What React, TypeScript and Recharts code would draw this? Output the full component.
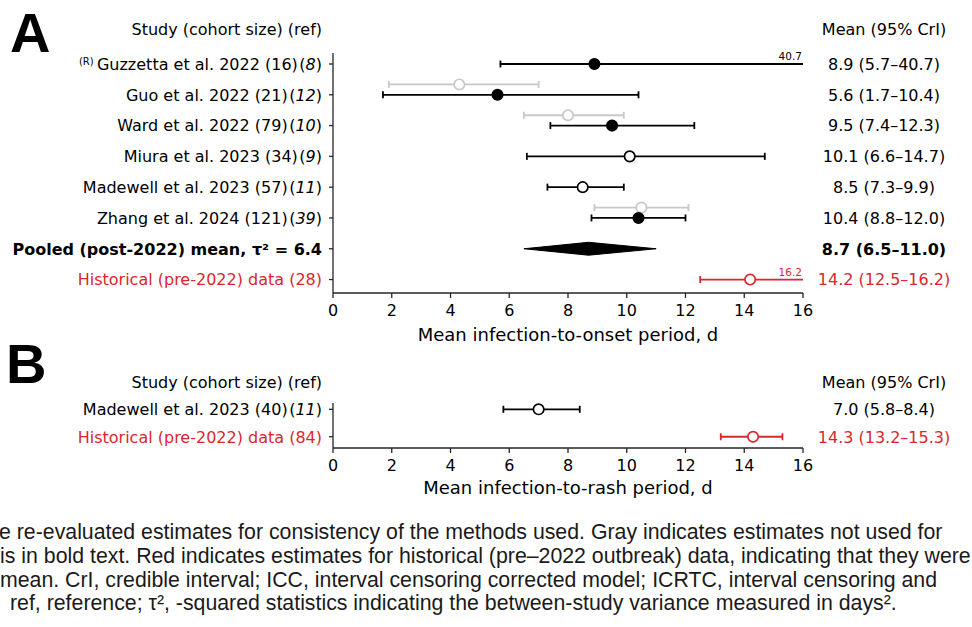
import { ScatterChart, Scatter, XAxis, YAxis, ErrorBar, Label } from "recharts";

// Panel A: infection-to-onset
const studiesA = ["Guzzetta et al. 2022", "Guo et al. 2022", "Ward et al. 2022", "Miura et al. 2023", "Madewell et al. 2023", "Zhang et al. 2024"];
const cohortA = [16, 21, 79, 34, 57, 121];
const refsA = [8, 12, 10, 9, 11, 39];
const meanA = [8.9, 5.6, 9.5, 10.1, 8.5, 10.4];
const lowA = [5.7, 1.7, 7.4, 6.6, 7.3, 8.8];
const highA = [40.7, 10.4, 12.3, 14.7, 9.9, 12.0];
const filledA = [true, true, true, false, false, true];
// gray = estimates not used for pooling
const grayMeanA = [null, 4.3, 8.0, null, null, 10.5];
const grayLowA = [null, 1.9, 6.5, null, null, 8.9];
const grayHighA = [null, 7.0, 9.9, null, null, 12.1];

const pooledMeanA = 8.7;
const pooledLowA = 6.5;
const pooledHighA = 11.0;
const pooledTau2A = 6.4;

const histCohortA = 28;
const histMeanA = 14.2;
const histLowA = 12.5;
const histHighA = 16.2;

// Panel B: infection-to-rash
const studiesB = ["Madewell et al. 2023"];
const cohortB = [40];
const refsB = [11];
const meanB = [7.0];
const lowB = [5.8];
const highB = [8.4];

const histCohortB = 84;
const histMeanB = 14.3;
const histLowB = 13.2;
const histHighB = 15.3;

const xTicks = [0, 2, 4, 6, 8, 10, 12, 14, 16];

const X_MAX = 16;
const BLACK = "#000";
const AXIS = "#262626";
const GRAY = "#c8c8c8";
const RED = "#d9272e";
const FONT = "'DejaVu Sans', sans-serif";
const RIGHT_CENTER = 884;
const GRAY_SHIFT = 0.335;

const POOLED_ROW = studiesA.length;
const HIST_ROW_A = studiesA.length + 1;
const HIST_ROW_B = studiesB.length;

const fmt = (m: number, l: number, h: number) => `${m.toFixed(1)} (${l.toFixed(1)}–${h.toFixed(1)})`;
// intervals running past the axis get no upper cap; the rest is drawn as a plain line to the edge
const err = (m: number, l: number, h: number) => [m - l, h > X_MAX ? 0 : h - m];

const pointsA = studiesA.map((_, i) => ({ x: meanA[i], y: i, err: err(meanA[i], lowA[i], highA[i]) }));
const filledPtsA = pointsA.filter((_, i) => filledA[i]);
const openPtsA = pointsA.filter((_, i) => !filledA[i]);
const grayPtsA = grayMeanA
  .map((m, i) => (m == null ? null : { x: m, y: i - GRAY_SHIFT, err: err(m, grayLowA[i] as number, grayHighA[i] as number) }))
  .filter(Boolean);
const histPtsA = [{ x: histMeanA, y: HIST_ROW_A, err: err(histMeanA, histLowA, histHighA) }];
const diamondA = [
  { x: pooledLowA, y: POOLED_ROW },
  { x: pooledMeanA, y: POOLED_ROW - 0.21 },
  { x: pooledHighA, y: POOLED_ROW },
  { x: pooledMeanA, y: POOLED_ROW + 0.21 },
  { x: pooledLowA, y: POOLED_ROW },
];
const overflowA = [
  ...highA.map((h, i) => ({ m: meanA[i], y: i, text: h.toFixed(1), color: BLACK, over: h > X_MAX })),
  { m: histMeanA, y: HIST_ROW_A, text: histHighA.toFixed(1), color: RED, over: histHighA > X_MAX },
].filter((d) => d.over);

const pointsB = studiesB.map((_, i) => ({ x: meanB[i], y: i, err: err(meanB[i], lowB[i], highB[i]) }));
const histPtsB = [{ x: histMeanB, y: HIST_ROW_B, err: err(histMeanB, histLowB, histHighB) }];

const rowsA = [...studiesA.map((_, i) => i), POOLED_ROW, HIST_ROW_A];
const rowsB = [...studiesB.map((_, i) => i), HIST_ROW_B];

const dot = (fill: string, stroke: string) => (p: any) => (
  <circle cx={p.cx} cy={p.cy} r={5.2} fill={fill} stroke={stroke} strokeWidth={1.7} />
);
const nothing = () => <g />;
const edgeLabel = (p: any) =>
  p.payload.text ? (
    <text x={p.cx - 1} y={p.cy - 4} textAnchor="end" fontSize={10.5} fill={p.payload.color}>
      {p.payload.text}
    </text>
  ) : (
    <g />
  );

function studyLabel(name: string, n: number, ref: number, sup: boolean) {
  return (
    <>
      {sup && (
        <tspan fontSize={10} dy={-5}>
          (R){" "}
        </tspan>
      )}
      <tspan dy={sup ? 5 : 0}>{`${name} (${n})`}</tspan>
      <tspan dx={1.5}>(</tspan>
      <tspan fontStyle="italic">{ref}</tspan>
      <tspan>)</tspan>
    </>
  );
}

function leftTickA(props: any) {
  const { x, y, payload } = props;
  const i = Math.round(payload.value);
  let fill = BLACK;
  let weight = 400;
  let content: any;
  if (i < studiesA.length) {
    content = studyLabel(studiesA[i], cohortA[i], refsA[i], i === 0);
  } else if (i === POOLED_ROW) {
    weight = 700;
    content = `Pooled (post-2022) mean, τ² = ${pooledTau2A.toFixed(1)}`;
  } else {
    fill = RED;
    content = `Historical (pre-2022) data (${histCohortA})`;
  }
  return (
    <text x={x} y={y + 5.8} textAnchor="end" fontSize={16} fontWeight={weight} fill={fill}>
      {content}
    </text>
  );
}

function rightTickA(props: any) {
  const { y, payload } = props;
  const i = Math.round(payload.value);
  let fill = BLACK;
  let weight = 400;
  let s: string;
  if (i < studiesA.length) s = fmt(meanA[i], lowA[i], highA[i]);
  else if (i === POOLED_ROW) {
    weight = 700;
    s = fmt(pooledMeanA, pooledLowA, pooledHighA);
  } else {
    fill = RED;
    s = fmt(histMeanA, histLowA, histHighA);
  }
  return (
    <text x={RIGHT_CENTER} y={y + 5.8} textAnchor="middle" fontSize={16} fontWeight={weight} fill={fill}>
      {s}
    </text>
  );
}

function leftTickB(props: any) {
  const { x, y, payload } = props;
  const i = Math.round(payload.value);
  const isHist = i === HIST_ROW_B;
  return (
    <text x={x} y={y + 5.8} textAnchor="end" fontSize={16} fill={isHist ? RED : BLACK}>
      {isHist ? `Historical (pre-2022) data (${histCohortB})` : studyLabel(studiesB[i], cohortB[i], refsB[i], false)}
    </text>
  );
}

function rightTickB(props: any) {
  const { y, payload } = props;
  const i = Math.round(payload.value);
  const isHist = i === HIST_ROW_B;
  return (
    <text x={RIGHT_CENTER} y={y + 5.8} textAnchor="middle" fontSize={16} fill={isHist ? RED : BLACK}>
      {isHist ? fmt(histMeanB, histLowB, histHighB) : fmt(meanB[i], lowB[i], highB[i])}
    </text>
  );
}

function Panel({ height, top, domain, rows, leftTick, rightTick, xHeight, labelOffset, xLabel, children }: any) {
  return (
    <ScatterChart width={972} height={height} margin={{ top, right: 0, bottom: 0, left: 0 }}>
      <XAxis
        type="number"
        dataKey="x"
        domain={[0, X_MAX]}
        ticks={xTicks}
        interval={0}
        height={xHeight}
        stroke={AXIS}
        strokeWidth={1.3}
        tickSize={5}
        tickMargin={7}
        tick={{ fontSize: 16, fill: BLACK }}
      >
        <Label value={xLabel} position="insideBottom" offset={labelOffset} fontSize={18} fill={BLACK} />
      </XAxis>
      <YAxis
        type="number"
        dataKey="y"
        domain={domain}
        reversed
        ticks={rows}
        interval={0}
        width={333}
        stroke={AXIS}
        strokeWidth={1.3}
        tickSize={4}
        tickMargin={7}
        tick={leftTick}
      />
      <YAxis
        yAxisId="r"
        orientation="right"
        type="number"
        dataKey="y"
        domain={domain}
        reversed
        ticks={rows}
        interval={0}
        width={169}
        axisLine={false}
        tickLine={false}
        tick={rightTick}
      />
      <Scatter yAxisId="r" data={rows.map((r: number) => ({ x: 0, y: r }))} shape={nothing} isAnimationActive={false} />
      {children}
    </ScatterChart>
  );
}

const bar = (color: string) => (
  <ErrorBar dataKey="err" direction="x" width={3.5} stroke={color} strokeWidth={1.8} isAnimationActive={false} />
);

const caption = [
  { left: -1, text: "e re-evaluated estimates for consistency of the methods used. Gray indicates estimates not used for" },
  { left: 0, text: "is in bold text. Red indicates estimates for historical (pre–2022 outbreak) data, indicating that they were" },
  { left: 0, text: "mean. CrI,  credible interval; ICC, interval censoring corrected model; ICRTC, interval censoring and" },
  { left: 10, text: "ref, reference; τ², -squared statistics indicating the between-study variance measured in days²." },
];
const captionY = [532, 556, 580, 603];

const header = (top: number) => (
  <>
    <div style={{ position: "absolute", left: 0, width: 322, top, textAlign: "right", fontSize: 16, lineHeight: "20px" }}>
      Study (cohort size) (ref)
    </div>
    <div style={{ position: "absolute", left: RIGHT_CENTER - 100, width: 200, top, textAlign: "center", fontSize: 16, lineHeight: "20px" }}>
      Mean (95% CrI)
    </div>
  </>
);

export default function App() {
  return (
    <div style={{ position: "absolute", left: 0, top: 0, width: 972, height: 627, background: "#fff", overflow: "hidden", fontFamily: FONT, color: BLACK }}>
      <div style={{ position: "absolute", left: 0, top: 0 }}>
        <Panel
          height={345}
          top={53}
          domain={[-0.357, 7.437]}
          rows={rowsA}
          leftTick={leftTickA}
          rightTick={rightTickA}
          xHeight={52}
          labelOffset={4}
          xLabel="Mean infection-to-onset period, d"
        >
          {overflowA.map((d, k) => (
            <Scatter
              key={k}
              data={[{ x: d.m, y: d.y }, { x: X_MAX, y: d.y, text: d.text, color: d.color }]}
              line={{ stroke: d.color, strokeWidth: 1.8 }}
              shape={edgeLabel}
              isAnimationActive={false}
            />
          ))}
          <Scatter data={grayPtsA} shape={dot("#fff", GRAY)} isAnimationActive={false}>
            {bar(GRAY)}
          </Scatter>
          <Scatter data={filledPtsA} shape={dot(BLACK, BLACK)} isAnimationActive={false}>
            {bar(BLACK)}
          </Scatter>
          <Scatter data={openPtsA} shape={dot("#fff", BLACK)} isAnimationActive={false}>
            {bar(BLACK)}
          </Scatter>
          <Scatter data={histPtsA} shape={dot("#fff", RED)} isAnimationActive={false}>
            {bar(RED)}
          </Scatter>
          <Scatter data={diamondA} line={{ stroke: BLACK, fill: BLACK, strokeWidth: 1 }} shape={nothing} isAnimationActive={false} />
        </Panel>
      </div>
      <div style={{ position: "absolute", left: 0, top: 345 }}>
        <Panel
          height={160}
          top={58}
          domain={[-0.23, 1.41]}
          rows={rowsB}
          leftTick={leftTickB}
          rightTick={rightTickB}
          xHeight={57}
          labelOffset={11}
          xLabel="Mean infection-to-rash period, d"
        >
          <Scatter data={pointsB} shape={dot("#fff", BLACK)} isAnimationActive={false}>
            {bar(BLACK)}
          </Scatter>
          <Scatter data={histPtsB} shape={dot("#fff", RED)} isAnimationActive={false}>
            {bar(RED)}
          </Scatter>
        </Panel>
      </div>
      <div style={{ position: "absolute", left: 10, top: 1, fontFamily: "'Liberation Sans', Arial, sans-serif", fontWeight: 700, fontSize: 56, lineHeight: "64px" }}>
        A
      </div>
      <div style={{ position: "absolute", left: 6, top: 332, fontFamily: "'Liberation Sans', Arial, sans-serif", fontWeight: 700, fontSize: 56, lineHeight: "64px" }}>
        B
      </div>
      {header(20)}
      {header(373)}
      {caption.map((c, i) => (
        <div
          key={i}
          style={{
            position: "absolute",
            left: c.left,
            top: captionY[i] - 13,
            whiteSpace: "nowrap",
            fontFamily: "'Liberation Sans', Arial, sans-serif",
            fontSize: 21.3,
            lineHeight: "26px",
            color: "#1a1a1a",
          }}
        >
          {c.text}
        </div>
      ))}
    </div>
  );
}
